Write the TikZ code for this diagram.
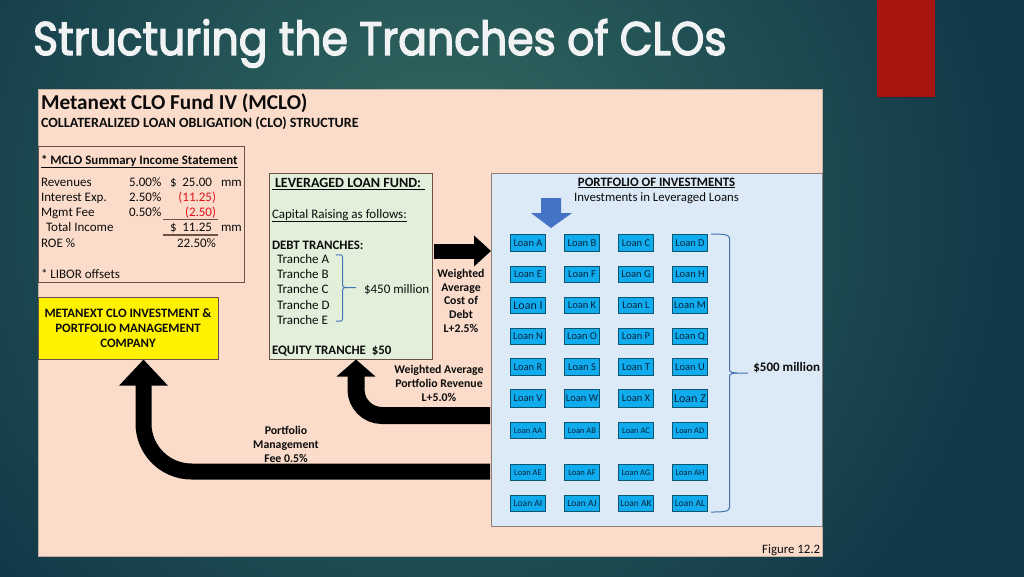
\documentclass[tikz,border=0pt]{standalone}
\usepackage{fontspec}
\setmainfont{Carlito}
\newfontfamily\titlefont[FakeBold=3]{Poppins}
\usetikzlibrary{arrows.meta}
\definecolor{peach}{HTML}{FBDCCB}
\definecolor{greenbox}{HTML}{E2EFDA}
\definecolor{bluepanel}{HTML}{DCE9F6}
\definecolor{loanblue}{HTML}{10ACEE}
\definecolor{loanedge}{HTML}{0D5670}
\definecolor{blockblue}{HTML}{4472C4}
\definecolor{bracecol}{HTML}{4472B4}
\definecolor{redbar}{HTML}{A81410}
\definecolor{boxedge}{HTML}{6B5148}
\definecolor{numred}{HTML}{E0101A}
\definecolor{txt}{HTML}{0C0C0C}
\definecolor{loantxt}{HTML}{04243C}
\tikzset{
  x=1pt,y=-1pt,
  box/.style={draw=#1,line width=1pt,anchor=north west,inner sep=0pt,outer sep=0pt},
  lbl/.style={inner sep=0pt,outer sep=0pt,text=txt,anchor=base west,font=\fontsize{13}{14}\selectfont},
  lblb/.style={lbl,font=\fontsize{12.9}{14}\selectfont\bfseries},
  lblr/.style={lbl,anchor=base east},
  lblc/.style={lbl,anchor=base,font=\fontsize{11.8}{13}\selectfont\bfseries},
  lblh/.style={lbl,anchor=base,font=\fontsize{12.8}{14}\selectfont\bfseries},
  loanbox/.style={draw=loanedge,line width=1pt,fill=loanblue,inner sep=0pt,anchor=north west,minimum width=35pt,text=loantxt,align=center},
  rule/.style={draw=#1,line width=0.9pt},
  brace/.style={draw=bracecol,line width=1pt},
}
\newcommand{\loan}[6]{\node[loanbox,minimum height=#5pt,font=\fontsize{#6}{#6}\selectfont] (#1) at (#3,#4) {#2};}
\begin{document}
\begin{tikzpicture}
\useasboundingbox (0,0) rectangle (1024,576);
\begin{scope}
\clip (-2,-2) rectangle (1026,578);
\fill[color={rgb,255:red,17;green,56;blue,72}] (-2,-2) rectangle (1026,578);
\shade[inner color={rgb,255:red,52;green,108;blue,98},outer color={rgb,255:red,17;green,56;blue,72}] (440,210) circle (570);
\end{scope}
\fill[black,opacity=0.25] (877,0) rectangle (934,98);
\node[box=redbar,fill=redbar,minimum width=57pt,minimum height=96pt,line width=0pt] (redbar) at (877,0) {};
\node[inner sep=0pt,anchor=base west,text={rgb,255:red,240;green,242;blue,244},font=\titlefont\fontsize{47}{50}\selectfont,xscale=0.905] (title) at (33,55) {Structuring the Tranches of CLOs};
\node[box=peach!80!black,fill=peach,minimum width=784pt,minimum height=467pt,line width=0.5pt] (sheet) at (38,89) {};
\node[lbl,font=\fontsize{21.2}{22}\selectfont\bfseries] (head1) at (41,109) {Metanext CLO Fund IV (MCLO)};
\node[lbl,font=\fontsize{14.1}{15}\selectfont\bfseries] (head2) at (41,127) {COLLATERALIZED LOAN OBLIGATION (CLO) STRUCTURE};
% income box
\node[box=boxedge,minimum width=206pt,minimum height=136pt] (income) at (38,146) {};
\node[lblb] (inctitle) at (41,164) {\underline{* MCLO Summary Income Statement}};
\node[lbl] (r1) at (41,186) {Revenues};
\node[lbl] (r2) at (41,201) {Interest Exp.};
\node[lbl] (r3) at (41,216) {Mgmt Fee};
\node[lbl] (r4) at (46,231) {Total Income};
\node[lbl] (r5) at (41,247) {ROE \%};
\node[lbl] (r6) at (41,278) {* LIBOR offsets};
\node[lbl] (p1) at (129,186) {5.00\%};
\node[lbl] (p2) at (129,201) {2.50\%};
\node[lbl] (p3) at (129,216) {0.50\%};
\node[lbl] (d1) at (170,186) {\$};
\node[lbl] (d4) at (170,231) {\$};
\node[lblr] (v1) at (212,186) {25.00};
\node[lblr,text=numred] (v2) at (216,201) {(11.25)};
\node[lblr,text=numred] (v3) at (216,216) {(2.50)};
\node[lblr] (v4) at (212,231) {11.25};
\node[lblr] (v5) at (216,247) {22.50\%};
\node[lbl] (m1) at (221,186) {mm};
\node[lbl] (m4) at (221,231) {mm};
\coordinate (l1a) at (163,219); \coordinate (l1b) at (218,219);
\coordinate (l2a) at (163,235); \coordinate (l2b) at (218,235);
\draw[rule=boxedge] (l1a) -- (l1b);
\draw[rule=boxedge,line width=1.6pt] (l2a) -- (l2b);
% yellow
\node[box=boxedge,fill=yellow,minimum width=180pt,minimum height=62pt] (mgr) at (38,297) {};
\node[lblh] (mgr1) at (128,317) {METANEXT CLO INVESTMENT \&};
\node[lblh] (mgr2) at (128,332) {PORTFOLIO MANAGEMENT};
\node[lblh] (mgr3) at (128,347) {COMPANY};
% green
\node[box=boxedge,fill=greenbox,minimum width=163pt,minimum height=186pt] (fund) at (269,173) {};
\node[lbl,font=\fontsize{14.1}{15}\selectfont\bfseries] (f1) at (275,187) {LEVERAGED LOAN FUND:};
\coordinate (fu1) at (272,189); \coordinate (fu2) at (425,189);
\draw[rule=black] (fu1) -- (fu2);
\node[lbl] (f2) at (272,218) {\underline{Capital Raising as follows:}};
\node[lblb] (f3) at (272,249) {DEBT TRANCHES:};
\node[lbl] (ta) at (277,263) {Tranche A};
\node[lbl] (tb) at (277,278) {Tranche B};
\node[lbl] (tc) at (277,293) {Tranche C};
\node[lbl] (td) at (277,309) {Tranche D};
\node[lbl] (te) at (277,324) {Tranche E};
\node[lbl] (t450) at (364,293) {\$450 million};
\node[lblb] (eq) at (272,354) {EQUITY TRANCHE\ \ \$50};
\coordinate (ba) at (336,255); \coordinate (be) at (336,321); \coordinate (bt) at (356,287.5);
\draw[brace] (ba) .. controls (339,255) and (342.5,254) .. (342.5,257) -- (342.5,285) .. controls (342.5,287) and (344,287.5) .. (346,287.5) -- (bt);
\draw[brace] (be) .. controls (339,321) and (342.5,322) .. (342.5,319) -- (342.5,290) .. controls (342.5,288) and (344,287.5) .. (346,287.5);
% portfolio
\node[box=boxedge!70!bluepanel,fill=bluepanel,minimum width=331pt,minimum height=353pt] (port) at (491,173) {};
\node[lblh] (pt1) at (656.5,186) {\underline{PORTFOLIO OF INVESTMENTS}};
\node[lblh,font=\fontsize{12.8}{14}\selectfont] (pt2) at (656.5,201) {Investments in Leveraged Loans};
\coordinate (da) at (541,198);
\fill[blockblue] (da) -- (561,198) -- (561,213) -- (572,213) -- (551,228) -- (531,213) -- (541,213) -- cycle;
% loans
\def\ca{510}\def\cb{564}\def\cc{618}\def\cd{672}
\loan{A}{Loan A}{\ca}{234}{17}{10.5}\loan{B}{Loan B}{\cb}{234}{17}{10.5}\loan{C}{Loan C}{\cc}{234}{17}{10.5}\loan{D}{Loan D}{\cd}{234}{17}{10.5}
\loan{E}{Loan E}{\ca}{266}{16}{10.5}\loan{F}{Loan F}{\cb}{266}{16}{10.5}\loan{G}{Loan G}{\cc}{266}{16}{10.5}\loan{H}{Loan H}{\cd}{266}{16}{10.5}
\loan{I}{Loan I}{\ca}{297}{16}{12}\loan{K}{Loan K}{\cb}{297}{16}{10.5}\loan{L}{Loan L}{\cc}{297}{16}{10.5}\loan{M}{Loan M}{\cd}{297}{16}{10.5}
\loan{N}{Loan N}{\ca}{328}{16}{10.5}\loan{O}{Loan O}{\cb}{328}{16}{10.5}\loan{P}{Loan P}{\cc}{328}{16}{10.5}\loan{Q}{Loan Q}{\cd}{328}{16}{10.5}
\loan{R}{Loan R}{\ca}{358}{17}{10.5}\loan{S}{Loan S}{\cb}{358}{17}{10.5}\loan{T}{Loan T}{\cc}{358}{17}{10.5}\loan{U}{Loan U}{\cd}{358}{17}{10.5}
\loan{V}{Loan V}{\ca}{389}{18}{10.5}\loan{W}{Loan W}{\cb}{389}{18}{10.5}\loan{X}{Loan X}{\cc}{389}{18}{10.5}\loan{Z}{Loan Z}{\cd}{389}{18}{12}
\loan{AA}{Loan AA}{\ca}{422}{16}{8.5}\loan{AB}{Loan AB}{\cb}{422}{16}{8.5}\loan{AC}{Loan AC}{\cc}{422}{16}{8.5}\loan{AD}{Loan AD}{\cd}{422}{16}{8.5}
\loan{AE}{Loan AE}{\ca}{464}{16}{8.5}\loan{AF}{Loan AF}{\cb}{464}{16}{8.5}\loan{AG}{Loan AG}{\cc}{464}{16}{8.5}\loan{AH}{Loan AH}{\cd}{464}{16}{8.5}
\loan{AI}{Loan AI}{\ca}{495}{16}{9.5}\loan{AJ}{Loan AJ}{\cb}{495}{16}{9.5}\loan{AK}{Loan AK}{\cc}{495}{16}{9.5}\loan{AL}{Loan AL}{\cd}{495}{16}{9.5}
\coordinate (bb1) at (711,234); \coordinate (bb2) at (711,512); \coordinate (bbt) at (748,373);
\draw[brace] (bb1) .. controls (720,234) and (729.5,234) .. (729.5,238) -- (729.5,370) .. controls (729.5,372) and (733,373) .. (737,373) -- (bbt);
\draw[brace] (bb2) .. controls (720,512) and (729.5,512) .. (729.5,508) -- (729.5,376) .. controls (729.5,374) and (733,373) .. (737,373);
\node[lblr,font=\fontsize{13}{14}\selectfont\bfseries] (m500) at (820,371) {\$500 million};
\node[lblr,font=\fontsize{12.8}{14}\selectfont] (figno) at (820,553) {Figure 12.2};
% labels
\node[lblc] (w1) at (461,277) {Weighted};
\node[lblc] (w2) at (461,291) {Average};
\node[lblc] (w3) at (461,304) {Cost of};
\node[lblc] (w4) at (461,318) {Debt};
\node[lblc] (w5) at (461,332) {L+2.5\%};
\node[lblc] (x1) at (439,373) {Weighted Average};
\node[lblc] (x2) at (439,387) {Portfolio Revenue};
\node[lblc] (x3) at (439,401) {L+5.0\%};
\node[lblc] (y1) at (286,434) {Portfolio};
\node[lblc] (y2) at (286,448) {Management};
\node[lblc] (y3) at (286,462) {Fee 0.5\%};
% block arrows
\coordinate (a1s) at (434,251);
\coordinate (a1e) at (491,251);
\draw[-{Triangle[width=30pt,length=17pt]},line width=15pt,black] (a1s) -- (a1e);
\coordinate (a2s) at (490,415.5);
\coordinate (a2e) at (356,359.5);
\draw[-{Triangle[width=38pt,length=17pt]},line width=17pt,black,rounded corners=26pt] (a2s) -| (a2e);
\coordinate (a3s) at (490,471.5);
\coordinate (a3e) at (143.5,359.5);
\draw[-{Triangle[width=47pt,length=26pt]},line width=16pt,black,rounded corners=48pt] (a3s) -| (a3e);
\end{tikzpicture}
\end{document}
